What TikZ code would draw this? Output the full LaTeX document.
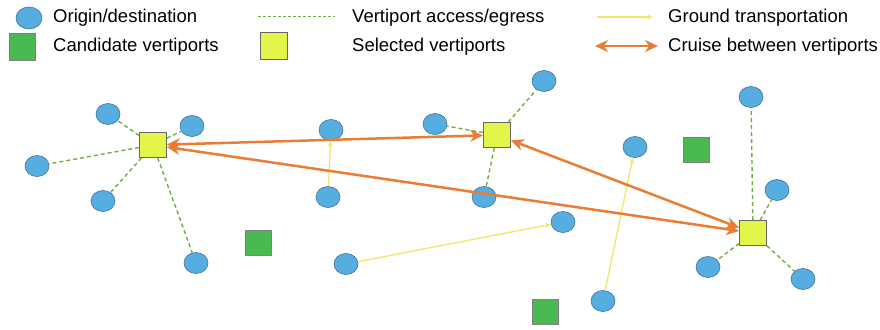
\documentclass[tikz,border=0pt]{standalone}
\usepackage{fontspec}
\setmainfont{Liberation Sans}
\usetikzlibrary{arrows.meta,shapes.geometric}
\definecolor{odblue}{RGB}{86,174,224}
\definecolor{odedge}{RGB}{65,113,156}
\definecolor{candgreen}{RGB}{74,185,82}
\definecolor{selyellow}{RGB}{228,245,74}
\definecolor{cruise}{RGB}{234,125,52}
\definecolor{ground}{RGB}{240,230,105}
\definecolor{access}{RGB}{112,173,71}
\begin{document}
\begin{tikzpicture}[x=1bp,y=-1bp,
  od/.style={ellipse,draw=odedge,fill=odblue,line width=0.6bp,minimum width=24bp,minimum height=21bp,inner sep=0pt},
  cand/.style={rectangle,draw=gray,fill=candgreen,line width=0.8bp,minimum width=26bp,minimum height=25bp,inner sep=0pt},
  sel/.style={rectangle,draw=gray!80!black,fill=selyellow,line width=0.8bp,minimum width=27bp,minimum height=25bp,inner sep=0pt},
  acc/.style={draw=access,line width=1.4bp,dash pattern=on 4bp off 3bp},
  grd/.style={draw=ground,line width=1.3bp,-{Stealth[length=6bp,width=5bp]}},
  crs/.style={draw=cruise,line width=2.5bp,{Stealth[length=13bp,width=12bp]}-{Stealth[length=13bp,width=12bp]}},
  lbl/.style={anchor=west,inner sep=0pt,font=\fontsize{18.5bp}{22bp}\selectfont}]
\useasboundingbox (0,0) rectangle (880,329);
% legend
\node[od,minimum width=26bp,minimum height=22bp] (lod) at (29,18) {};
\node[lbl] (tod) at (53,18) {Origin/destination};
\node[cand,minimum height=27bp] (lcand) at (22,47) {};
\node[lbl] (tcand) at (53,47) {Candidate vertiports};
\coordinate (la1) at (258,16);
\coordinate (la2) at (335,16);
\draw[draw=access,dash pattern=on 2.5bp off 2.5bp,line width=0.8bp] (la1) -- (la2);
\node[lbl] (tacc) at (352,18) {Vertiport access/egress};
\node[sel,minimum height=27bp] (lsel) at (274,46) {};
\node[lbl] (tsel) at (352,47) {Selected vertiports};
\coordinate (lg1) at (597,17);
\coordinate (lg2) at (653,17);
\draw[grd] (lg1) -- (lg2);
\node[lbl] (tgrd) at (668,18) {Ground transportation};
\coordinate (lc1) at (595,46);
\coordinate (lc2) at (658,46);
\draw[crs,line width=2.2bp] (lc1) -- (lc2);
\node[lbl] (tcrs) at (668,47) {Cruise between vertiports};
% candidate vertiports
\node[cand] (g1) at (258,243) {};
\node[cand] (g2) at (696,150) {};
\node[cand] (g3) at (545,312) {};
% selected vertiports
\node[sel] (s1) at (153,145) {};
\node[sel] (s2) at (497,135) {};
\node[sel] (s3) at (753,233) {};
% origins/destinations
\node[od] (c1) at (108,114) {};
\node[od] (c2) at (192,126) {};
\node[od] (c3) at (37,166) {};
\node[od] (c4) at (103,201) {};
\node[od] (c5) at (196,263) {};
\node[od] (c6) at (331,130) {};
\node[od] (c7) at (435,124) {};
\node[od] (c8) at (544,81) {};
\node[od] (c9) at (328,197) {};
\node[od] (c10) at (484,197) {};
\node[od] (c11) at (563,222) {};
\node[od] (c12) at (346,264) {};
\node[od] (c13) at (751,97) {};
\node[od] (c14) at (635,147) {};
\node[od] (c15) at (777,190) {};
\node[od] (c16) at (708,267) {};
\node[od] (c17) at (803,279) {};
\node[od] (c18) at (603,301) {};
% access/egress
\foreach \c in {c1,c2,c3,c4,c5} \draw[acc] (s1) -- (\c);
\foreach \c in {c7,c8,c10} \draw[acc] (s2) -- (\c);
\foreach \c in {c13,c15,c16,c17} \draw[acc] (s3) -- (\c);
% ground
\draw[grd] (c9) -- (c6);
\draw[grd] (c12) -- (c11);
\draw[grd] (c18) -- (c14);
% cruise
\draw[crs] (s1) -- (s2);
\draw[crs] (s1) -- (s3);
\draw[crs] (s2) -- (s3);
\end{tikzpicture}
\end{document}
